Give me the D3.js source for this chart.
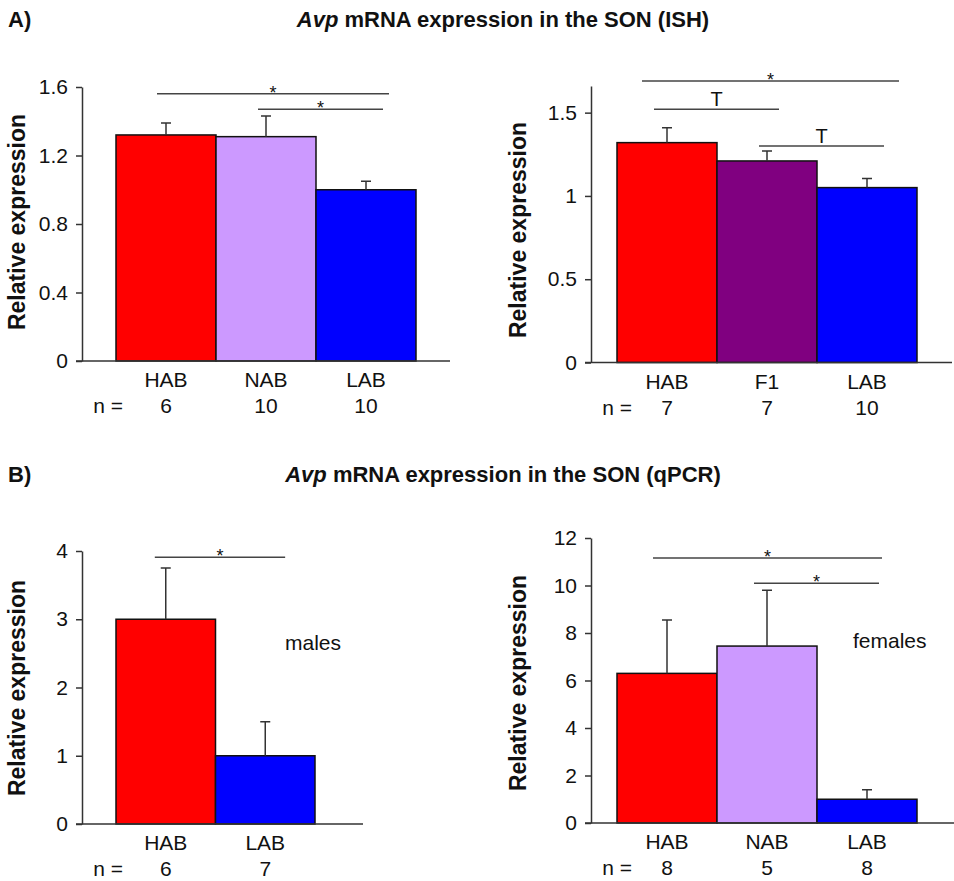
<!DOCTYPE html>
<html>
<head>
<meta charset="utf-8">
<script src="https://cdn.jsdelivr.net/npm/d3@7"></script>
<style>
  body { margin: 0; background: #fff; }
  svg text { font-family: "Liberation Sans", Arial, Helvetica, sans-serif; fill: #111; }
</style>
</head>
<body>
<svg id="chart" width="954" height="881"></svg>
<script>
// --- Data ---
// A) in situ hybridisation, HAB / NAB / LAB
const ishLineGroups = ["HAB", "NAB", "LAB"];
const ishLineMeans = [1.32, 1.31, 1.0];
const ishLineSem = [0.07, 0.12, 0.05];
const ishLineN = [6, 10, 10];
const ishLineTicks = [0, 0.4, 0.8, 1.2, 1.6];
// brackets: from/to in bar units (0 = left edge of first bar), level in data units
const ishLineSig = [
    { from: 0.41, to: 2.73, level: 1.56, mark: "*" },
    { from: 1.42, to: 2.67, level: 1.47, mark: "*" }
];

// A) in situ hybridisation, HAB / F1 / LAB
const ishCrossGroups = ["HAB", "F1", "LAB"];
const ishCrossMeans = [1.32, 1.21, 1.05];
const ishCrossSem = [0.09, 0.06, 0.055];
const ishCrossN = [7, 7, 10];
const ishCrossTicks = [0, 0.5, 1, 1.5];
const ishCrossSig = [
    { from: 0.25, to: 2.82, level: 1.69, mark: "*" },
    { from: 0.37, to: 1.62, level: 1.52, mark: "T" },
    { from: 1.42, to: 2.67, level: 1.30, mark: "T" }
];

// B) qPCR, males
const maleGroups = ["HAB", "LAB"];
const maleMeans = [3.0, 1.0];
const maleSem = [0.75, 0.5];
const maleN = [6, 7];
const maleTicks = [0, 1, 2, 3, 4];
const maleSig = [{ from: 0.39, to: 1.7, level: 3.91, mark: "*" }];

// B) qPCR, females
const femaleGroups = ["HAB", "NAB", "LAB"];
const femaleMeans = [6.3, 7.45, 1.0];
const femaleSem = [2.25, 2.35, 0.4];
const femaleN = [8, 5, 8];
const femaleTicks = [0, 2, 4, 6, 8, 10, 12];
const femaleSig = [
    { from: 0.36, to: 2.65, level: 11.16, mark: "*" },
    { from: 1.37, to: 2.62, level: 10.1, mark: "*" }
];

const groupColors = { HAB: "#ff0000", NAB: "#cc99ff", LAB: "#0000ff", F1: "#800080" };

// --- Drawing ---
const svg = d3.select("#chart");
const INK = "#333";

function heading(y, letter, method) {
    svg.append("text").attr("x", 8).attr("y", y)
        .attr("font-size", 22).attr("font-weight", "bold").text(letter);
    const t = svg.append("text").attr("x", 503).attr("y", y)
        .attr("text-anchor", "middle").attr("font-size", 22).attr("font-weight", "bold");
    t.append("tspan").attr("font-style", "italic").text("Avp");
    t.append("tspan").text(" mRNA expression in the SON (" + method + ")");
}

function drawPanel(p) {
    const g = svg.append("g");
    const n = p.groups.length;

    const x = d3.scaleBand().domain(p.groups)
        .range([p.barStart, p.barStart + n * p.barW]).padding(0);
    const xUnit = d3.scaleLinear().domain([0, n]).range(x.range());
    const y = d3.scaleLinear().domain([0, p.max]).range([p.y0, p.yTop]);

    // bars
    g.selectAll(".bar").data(p.groups).enter().append("rect")
        .attr("x", d => x(d))
        .attr("y", (d, i) => y(p.means[i]))
        .attr("width", x.bandwidth())
        .attr("height", (d, i) => y(0) - y(p.means[i]))
        .attr("fill", d => groupColors[d])
        .attr("stroke", "#111").attr("stroke-width", 1.5);

    // error bars (upper half only)
    const cx = d => x(d) + x.bandwidth() / 2;
    g.selectAll(".err").data(p.groups).enter().append("path")
        .attr("d", (d, i) => {
            const top = y(p.means[i] + p.sem[i]);
            return `M${cx(d)},${y(p.means[i])}V${top}M${cx(d) - 5},${top}H${cx(d) + 5}`;
        })
        .attr("fill", "none").attr("stroke", INK).attr("stroke-width", 1.5);

    // y axis
    const yAxis = g.append("g").attr("transform", `translate(${p.axisX},0)`)
        .call(d3.axisLeft(y).tickValues(p.ticks).tickSize(6).tickSizeOuter(0)
            .tickPadding(8).tickFormat(d3.format("")));
    yAxis.attr("font-family", null);
    yAxis.select(".domain").attr("stroke", INK).attr("stroke-width", 1.5);
    yAxis.selectAll(".tick line").attr("stroke", INK).attr("stroke-width", 1.5);
    yAxis.selectAll(".tick text").attr("font-size", 21).style("fill", "#111");

    // baseline
    g.append("line").attr("x1", p.axisX - 6).attr("x2", p.axisEnd)
        .attr("y1", y(0)).attr("y2", y(0))
        .attr("stroke", INK).attr("stroke-width", 1.5);

    // y label
    g.append("text")
        .attr("transform", `translate(${p.labelX},${p.labelY}) rotate(-90)`)
        .attr("text-anchor", "middle").attr("font-size", 23).attr("font-weight", "bold")
        .text("Relative expression");

    // group labels and sample sizes
    g.selectAll(".cat").data(p.groups).enter().append("text")
        .attr("x", cx).attr("y", y(0) + 26)
        .attr("text-anchor", "middle").attr("font-size", 21).text(d => d);
    g.append("text").attr("x", p.axisX + 41).attr("y", y(0) + 52)
        .attr("text-anchor", "end").attr("font-size", 21).text("n =");
    g.selectAll(".nval").data(p.groups).enter().append("text")
        .attr("x", cx).attr("y", y(0) + 52)
        .attr("text-anchor", "middle").attr("font-size", 21).text((d, i) => p.n[i]);

    // significance brackets
    p.sig.forEach(s => {
        const ly = y(s.level);
        g.append("line").attr("x1", xUnit(s.from)).attr("x2", xUnit(s.to))
            .attr("y1", ly).attr("y2", ly)
            .attr("stroke", "#444").attr("stroke-width", 1.5);
        const star = s.mark === "*";
        g.append("text").attr("x", (xUnit(s.from) + xUnit(s.to)) / 2)
            .attr("y", star ? ly + 5 : ly - 3)
            .attr("text-anchor", "middle").attr("font-size", star ? 18 : 20)
            .text(s.mark);
    });

    if (p.note) {
        g.append("text").attr("x", p.note.x).attr("y", p.note.y)
            .attr("font-size", 21).text(p.note.text);
    }
}

heading(27, "A)", "ISH");
heading(482, "B)", "qPCR");

drawPanel({
    groups: ishLineGroups, means: ishLineMeans, sem: ishLineSem, n: ishLineN,
    ticks: ishLineTicks, sig: ishLineSig, max: 1.6,
    axisX: 82, y0: 361, yTop: 87, barStart: 116, barW: 100, axisEnd: 450,
    labelX: 25, labelY: 222
});
drawPanel({
    groups: ishCrossGroups, means: ishCrossMeans, sem: ishCrossSem, n: ishCrossN,
    ticks: ishCrossTicks, sig: ishCrossSig, max: 1.66,
    axisX: 591, y0: 362.5, yTop: 86, barStart: 617, barW: 100, axisEnd: 952,
    labelX: 526, labelY: 230
});
drawPanel({
    groups: maleGroups, means: maleMeans, sem: maleSem, n: maleN,
    ticks: maleTicks, sig: maleSig, max: 4,
    axisX: 82, y0: 824, yTop: 551, barStart: 116, barW: 99.5, axisEnd: 363,
    labelX: 25, labelY: 688,
    note: { text: "males", x: 285, y: 650 }
});
drawPanel({
    groups: femaleGroups, means: femaleMeans, sem: femaleSem, n: femaleN,
    ticks: femaleTicks, sig: femaleSig, max: 12,
    axisX: 591, y0: 823, yTop: 538, barStart: 617, barW: 100, axisEnd: 954,
    labelX: 526, labelY: 683,
    note: { text: "females", x: 853, y: 648 }
});
</script>
</body>
</html>
